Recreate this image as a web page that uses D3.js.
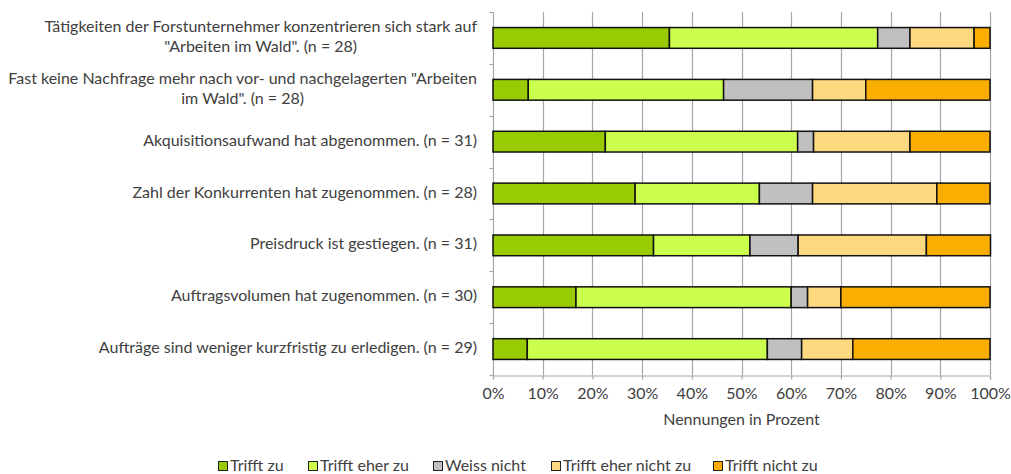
<!DOCTYPE html>
<html>
<head>
<meta charset="utf-8">
<script src="https://cdn.jsdelivr.net/npm/d3@7"></script>
<style>
  html, body { margin: 0; padding: 0; background: #fff; }
  svg { display: block; }
  text { font-family: Lato, "Open Sans", sans-serif; fill: #404040; }
</style>
</head>
<body>
<svg id="chart" width="1011" height="474"></svg>
<script>
// Categories (top to bottom), each label split into display lines
const categories = [
  "Tätigkeiten der Forstunternehmer konzentrieren sich stark auf \"Arbeiten im Wald\". (n = 28)",
  "Fast keine Nachfrage mehr nach vor- und nachgelagerten \"Arbeiten im Wald\". (n = 28)",
  "Akquisitionsaufwand hat abgenommen. (n = 31)",
  "Zahl der Konkurrenten hat zugenommen. (n = 28)",
  "Preisdruck ist gestiegen. (n = 31)",
  "Auftragsvolumen hat zugenommen. (n = 30)",
  "Aufträge sind weniger kurzfristig zu erledigen. (n = 29)"
];
const categoryLines = [
  ["Tätigkeiten der Forstunternehmer konzentrieren sich stark auf", "\"Arbeiten im Wald\". (n = 28)"],
  ["Fast keine Nachfrage mehr nach vor- und nachgelagerten \"Arbeiten", "im Wald\". (n = 28)"],
  ["Akquisitionsaufwand hat abgenommen. (n = 31)"],
  ["Zahl der Konkurrenten hat zugenommen. (n = 28)"],
  ["Preisdruck ist gestiegen. (n = 31)"],
  ["Auftragsvolumen hat zugenommen. (n = 30)"],
  ["Aufträge sind weniger kurzfristig zu erledigen. (n = 29)"]
];

const seriesNames = ["Trifft zu", "Trifft eher zu", "Weiss nicht", "Trifft eher nicht zu", "Trifft nicht zu"];
const seriesColors = ["#99cc00", "#ccff4d", "#c0c0c0", "#ffd980", "#f9ae00"];

// Percent values per series, in category order
const trifftZu          = [35.5,  7.1, 22.6, 28.6, 32.3, 16.7,  6.9];
const trifftEherZu      = [41.9, 39.3, 38.7, 25.0, 19.4, 43.3, 48.3];
const weissNicht        = [ 6.5, 17.9,  3.2, 10.7,  9.7,  3.3,  6.9];
const trifftEherNichtZu = [12.9, 10.7, 19.4, 25.0, 25.8,  6.7, 10.3];
const trifftNichtZu     = [ 3.2, 25.0, 16.1, 10.7, 12.9, 30.0, 27.6];

const xTicks = [0, 10, 20, 30, 40, 50, 60, 70, 80, 90, 100];
const xTickLabels = ["0%", "10%", "20%", "30%", "40%", "50%", "60%", "70%", "80%", "90%", "100%"];
const xAxisTitle = "Nennungen in Prozent";

const seriesValues = [trifftZu, trifftEherZu, weissNicht, trifftEherNichtZu, trifftNichtZu];
const rows = categories.map((c, i) => {
  const r = { cat: c };
  seriesNames.forEach((s, j) => r[s] = seriesValues[j][i]);
  return r;
});

const FS = 16;
const svg = d3.select("#chart");
const margin = { left: 493, right: 21, top: 12, bottom: 99 };
const W = 1011, H = 474;
const x = d3.scaleLinear().domain([0, 100]).range([margin.left, W - margin.right]);
const y = d3.scaleBand().domain(categories).range([margin.top, H - margin.bottom]).paddingInner(0.6).paddingOuter(0.3);
const yb = d3.scaleBand().domain(categories).range([margin.top, H - margin.bottom]);

const gridColor = "#a6a6a6";

// vertical gridlines
svg.append("g").selectAll("line").data(xTicks.slice(1)).join("line")
  .attr("x1", d => Math.round(x(d)) + 0.5).attr("x2", d => Math.round(x(d)) + 0.5)
  .attr("y1", margin.top).attr("y2", H - margin.bottom)
  .attr("stroke", gridColor).attr("stroke-width", 1.2);

// y axis (left)
const yAxisG = svg.append("g").attr("transform", `translate(${Math.round(x(0)) + 0.5},0)`);
yAxisG.append("line").attr("y1", margin.top).attr("y2", H - margin.bottom).attr("stroke", gridColor).attr("stroke-width", 1.2);
yAxisG.selectAll("line.tk").data(categories.map(c => yb(c)).concat([H - margin.bottom])).join("line")
  .attr("class", "tk").attr("x1", -4).attr("x2", 0)
  .attr("y1", d => Math.round(d) + 0.5).attr("y2", d => Math.round(d) + 0.5)
  .attr("stroke", gridColor).attr("stroke-width", 1.2);

// x axis
const xAxis = d3.axisBottom(x).tickValues(xTicks).tickSize(4).tickPadding(8)
  .tickFormat((d, i) => xTickLabels[i]);
const xg = svg.append("g").attr("transform", `translate(0,${H - margin.bottom + 0.5})`).call(xAxis);
xg.select(".domain").attr("stroke", gridColor).attr("stroke-width", 1.2);
xg.selectAll(".tick line").attr("stroke", gridColor).attr("stroke-width", 1.2);
xg.selectAll(".tick text").attr("font-size", FS).attr("fill", "#404040")
  .style("font-family", "Lato, sans-serif");

// stacked bars
const stack = d3.stack().keys(seriesNames)(rows);
svg.append("g").selectAll("g").data(stack).join("g")
  .attr("fill", (d, i) => seriesColors[i])
  .selectAll("rect").data(d => d).join("rect")
  .attr("x", d => x(d[0]))
  .attr("width", d => x(d[1]) - x(d[0]))
  .attr("y", d => y(d.data.cat))
  .attr("height", y.bandwidth())
  .attr("stroke", "#111").attr("stroke-width", 1.5);

// category labels
const labelG = svg.append("g");
categories.forEach((c, i) => {
  const lines = categoryLines[i];
  const cy = yb(c) + yb.bandwidth() / 2;
  const lh = 20;
  const t = labelG.append("text")
    .attr("font-size", FS)
    .attr("dominant-baseline", "middle");
  if (lines.length === 1) {
    t.attr("x", 477).attr("y", cy).attr("text-anchor", "end").text(lines[0]);
  } else {
    const tmp = labelG.append("text").attr("font-size", FS).text(lines[0]);
    const w0 = tmp.node().getComputedTextLength();
    tmp.remove();
    const cx = 477 - w0 / 2;
    t.attr("text-anchor", "middle");
    lines.forEach((ln, k) => {
      t.append("tspan").attr("x", cx).attr("y", cy + (k - (lines.length - 1) / 2) * lh).text(ln);
    });
  }
});

// x axis title
svg.append("text").attr("x", x(50)).attr("y", 421)
  .attr("text-anchor", "middle").attr("dominant-baseline", "middle")
  .attr("font-size", FS).text(xAxisTitle);

// legend
const legendX = [218, 308, 433, 551, 713];
const lg = svg.append("g");
seriesNames.forEach((s, i) => {
  const g = lg.append("g").attr("transform", `translate(${legendX[i]},466)`);
  g.append("rect").attr("x", 0.5).attr("y", -4.5).attr("width", 9).attr("height", 9)
    .attr("fill", seriesColors[i]).attr("stroke", "#222").attr("stroke-width", 1);
  g.append("text").attr("x", 12).attr("y", 0.5).attr("dominant-baseline", "middle")
    .attr("font-size", FS).text(s);
});
</script>
</body>
</html>
